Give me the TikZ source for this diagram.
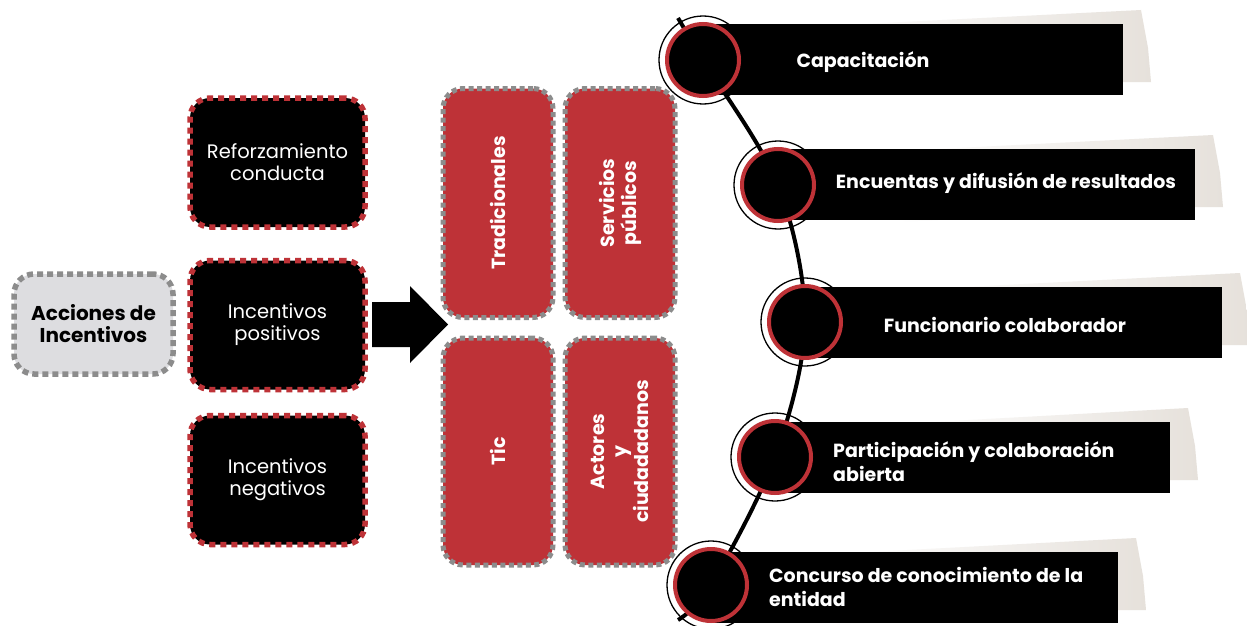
\documentclass[tikz,border=0pt]{standalone}
\usepackage{fontspec}
\setmainfont{Poppins}
\definecolor{myred}{HTML}{BE3237}
\definecolor{dashgray}{HTML}{8C8C8C}
\definecolor{boxgray}{HTML}{DDDDE0}
\definecolor{beige}{HTML}{E6E1DB}
\tikzset{
  blackbox/.style={rectangle, rounded corners=20pt, fill=black, draw=myred, line width=5.5pt,
    dash pattern=on 6pt off 5pt, minimum width=175pt, minimum height=129pt, inner sep=0pt,
    text=white, align=center, font=\fontsize{19.5}{22}\selectfont},
  redbox/.style={rectangle, rounded corners=20pt, fill=myred, draw=dashgray, line width=5pt,
    dash pattern=on 5pt off 3.5pt, minimum width=110pt, minimum height=229pt, inner sep=0pt},
  vtext/.style={rotate=90, text=white, align=center, font=\fontsize{19}{22}\selectfont\bfseries},
  accbox/.style={rectangle, rounded corners=20pt, fill=boxgray, draw=dashgray, line width=5.5pt,
    dash pattern=on 6pt off 4pt, minimum width=159pt, minimum height=100pt, inner sep=0pt,
    align=center, font=\fontsize{20}{22}\selectfont\bfseries},
  bar/.style={rectangle, fill=black, inner sep=0pt, minimum height=71pt, anchor=west},
  bartext/.style={text=white, font=\fontsize{19}{24}\selectfont\bfseries, inner sep=0pt},
  outerc/.style={circle, fill=white, draw=black, line width=1.3pt, minimum size=88pt, inner sep=0pt},
  innerc/.style={circle, fill=black, draw=myred, line width=4pt, minimum size=72pt, inner sep=0pt},
}
\newcommand{\barshadow}[3]{% #1 left x, #2 top y, #3 right x
  \shade[left color=white, right color=beige]
    ({#1+120},{#2+2}) -- ({#3+18},{#2-14}) -- ({#3+25},{#2+24}) -- ({#3+28},{#2+58})
    -- ({#3},{#2+58}) -- ({#1+120},{#2+73}) -- cycle;}
\begin{document}
\begin{tikzpicture}[x=1pt,y=-1pt]
\useasboundingbox (0,0) rectangle (1247,626);
\fill[white] (0,0) rectangle (1247,626);

% left column
\node[accbox] (acc) at (93.5,324) {Acciones de\\Incentivos};
\node[blackbox] (b1) at (277.5,162.5) {Reforzamiento\\conducta};
\node[blackbox] (b2) at (277.5,325) {Incentivos\\positivos};
\node[blackbox] (b3) at (277.5,480) {Incentivos\\negativos};

% block arrow
\fill[black] (372,302) -- (410,302) -- (410,286) -- (448,324.5) -- (410,363) -- (410,347) -- (372,347) -- cycle;

% red boxes
\node[redbox] (r1) at (498,203) {};
\node[redbox] (r2) at (620,203) {};
\node[redbox, minimum height=227pt] (r3) at (498,451.5) {};
\node[redbox, minimum height=227pt] (r4) at (620,451.5) {};
\node[vtext] (t1) at (r1.center) {Tradicionales};
\node[vtext] (t2) at (r2.center) {Servicios\\públicos};
\node[vtext] (t3) at (r3.center) {Tic};
\node[vtext] (t4) at (r4.center) {Actores\\y\\ciudadadanos};

% timeline points
\coordinate (p0) at (678,18);
\coordinate (p1) at (703,60);
\coordinate (p2) at (778,185);
\coordinate (p3) at (805,322);
\coordinate (p4) at (775,457);
\coordinate (p5) at (711,585);
\coordinate (p6) at (678,620);

% shadows
\barshadow{703}{24}{1123}
\barshadow{778}{149}{1195}
\barshadow{805}{287}{1222}
\barshadow{775}{422}{1170}
\barshadow{711}{552}{1118}

% outer circles
\node[outerc] (o1) at (p1) {};
\node[outerc] (o2) at (p2) {};
\node[outerc] (o3) at (p3) {};
\node[outerc] (o4) at (p4) {};
\node[outerc] (o5) at (p5) {};

% timeline curve
\draw[line width=4pt] plot[smooth, tension=0.55] coordinates {(p0) (p1) (p2) (p3) (p4) (p5) (p6)};

% bars
\node[bar, minimum width=420pt] (bar1) at (703,59.5) {};
\node[bar, minimum width=417pt] (bar2) at (778,184) {};
\node[bar, minimum width=417pt] (bar3) at (805,322) {};
\node[bar, minimum width=395pt] (bar4) at (775,457) {};
\node[bar, minimum width=407pt] (bar5) at (711,587) {};

% inner circles
\node[innerc] (c1) at (p1) {};
\node[innerc] (c2) at (p2) {};
\node[innerc] (c3) at (p3) {};
\node[innerc] (c4) at (p4) {};
\node[innerc] (c5) at (p5) {};

% bar texts
\node[bartext] (l1) at (863,62) {Capacitación};
\node[bartext] (l2) at (1006,183) {Encuentas y difusión de resultados};
\node[bartext] (l3) at (1005,325) {Funcionario colaborador};
\node[bartext, anchor=west, align=left] (l4) at (833,462) {Participación y colaboración\\abierta};
\node[bartext, anchor=west, align=left] (l5) at (769,587) {Concurso de conocimiento de la\\entidad};
\end{tikzpicture}
\end{document}
